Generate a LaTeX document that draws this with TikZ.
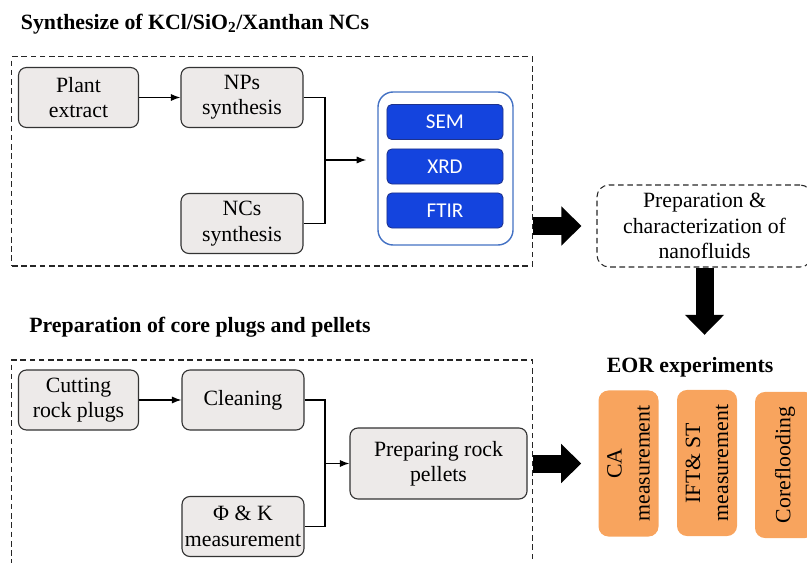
\documentclass[tikz,border=0pt]{standalone}
\usepackage{fontspec}
\setmainfont{Liberation Serif}
\newfontfamily\calfont{Carlito}
\usetikzlibrary{arrows.meta}
\definecolor{boxgray}{RGB}{237,234,233}
\definecolor{testblue}{RGB}{20,68,222}
\definecolor{testedge}{RGB}{30,50,140}
\definecolor{frameblue}{RGB}{68,114,196}
\definecolor{eororange}{RGB}{248,164,94}
\tikzset{
	txt/.style={font=\fontsize{15.5}{18}\selectfont, align=center, inner sep=0pt},
	title/.style={font=\bfseries\fontsize{15.5}{18}\selectfont, inner sep=0pt},
	graybox/.style={txt, draw=black!80, fill=boxgray, line width=0.8pt, rounded corners=0.2cm},
	dashbox/.style={draw=black!85, line width=0.75pt, dash pattern=on 4pt off 2.6pt},
	prepbox/.style={txt, dashbox, rounded corners=0.3cm},
	testframe/.style={draw=frameblue, fill=white, line width=1pt, rounded corners=0.38cm},
	testbox/.style={draw=testedge, fill=testblue, line width=0.6pt, rounded corners=0.12cm, text=white, font=\calfont\fontsize{15}{18}\selectfont, minimum width=2.9cm, minimum height=0.875cm},
	eorbox/.style={txt, fill=eororange, rounded corners=0.25cm, rotate=90, font=\fontsize{15.5}{20}\selectfont, minimum width=3.65cm, minimum height=1.5cm},
	link/.style={line width=0.9pt},
	fat/.style={line width=0.45cm, -{Triangle[length=0.5cm, width=0.95cm]}}
}
\begin{document}
\begin{tikzpicture}[x=0.025cm, y=-0.025cm]
			%%%%% START %%%%%
			\useasboundingbox (0,0) rectangle (807,563);
			
			\node[title] (t1) at (195,24) {Synthesize of KCl/SiO\textsubscript{2}/Xanthan NCs};
			\node[dashbox, minimum width=13cm, minimum height=5.225cm] (synth) at (272,161.5) {};
			
			\node[graybox, minimum width=3cm, minimum height=1.5cm] (plant) at (78.5,97.5) {Plant\\extract};
			\node[graybox, minimum width=3.05cm, minimum height=1.5cm] (nps) at (242,97.5) {NPs\\synthesis};
			\node[graybox, minimum width=3.05cm, minimum height=1.5cm] (ncs) at (242,223.5) {NCs\\synthesis};
			
			\node[testframe, minimum width=3.375cm, minimum height=3.825cm] (tests) at (445.5,168.5) {};
			\node[testbox] (sem) at (445,122) {SEM};
			\node[testbox] (xrd) at (445,166.5) {XRD};
			\node[testbox] (ftir) at (445,210.5) {FTIR};
			
			\coordinate (jA) at (325,160);
			\draw[link, -{Latex[length=2.4mm, width=1.8mm]}] (plant) -- (nps);
			\draw[link] (nps.east) -| (jA) |- (ncs.east);
			\draw[link, -{Latex[length=2.4mm, width=1.8mm]}, shorten >=0.275cm] (jA) -- (jA -| tests.west);
			
			\node[prepbox, minimum width=5.375cm, minimum height=2.05cm] (prep) at (704.5,226) {Preparation \&\\characterization of\\nanofluids};
			\draw[fat, shorten >=0.375cm] (synth.east |- prep.west) -- (prep.west);
			
			\node[title] (eor) at (690,367) {EOR experiments};
			\draw[fat, shorten >=0.55cm] (prep.south) -- (prep.south |- eor.north);
			
			\node[title] (t2) at (200,327) {Preparation of core plugs and pellets};
			\node[dashbox, minimum width=13cm, minimum height=5.2cm] (core) at (272,464) {};
			
			\node[graybox, minimum width=3cm, minimum height=1.5cm] (cut) at (78.5,400) {Cutting\\rock plugs};
			\node[graybox, minimum width=3.05cm, minimum height=1.5cm] (clean) at (243,400) {Cleaning};
			\node[graybox, minimum width=3.05cm, minimum height=1.5cm] (phik) at (243,526.5) {Φ \& K\\measurement};
			\node[graybox, minimum width=4.425cm, minimum height=1.775cm] (pellet) at (438.5,463.5) {Preparing rock\\pellets};
			
			\coordinate (jB) at (325,463.5);
			\draw[link, -{Latex[length=2.4mm, width=1.8mm]}] (cut) -- (clean);
			\draw[link] (clean.east) -| (jB) |- (phik.east);
			\draw[link, -{Latex[length=2.4mm, width=1.8mm]}] (jB) -- (pellet);
			
			\node[eorbox] (ca) at (628.5,463.5) {CA\\measurement};
			\node[eorbox] (ift) at (707,463) {IFT\& ST\\measurement};
			\node[eorbox] (cfl) at (785,465) {Coreflooding};
			\draw[fat, shorten >=0.425cm] (core.east |- pellet.east) -- (ca.north);
			
			%%%%% END %%%%%
\end{tikzpicture}
\end{document}
